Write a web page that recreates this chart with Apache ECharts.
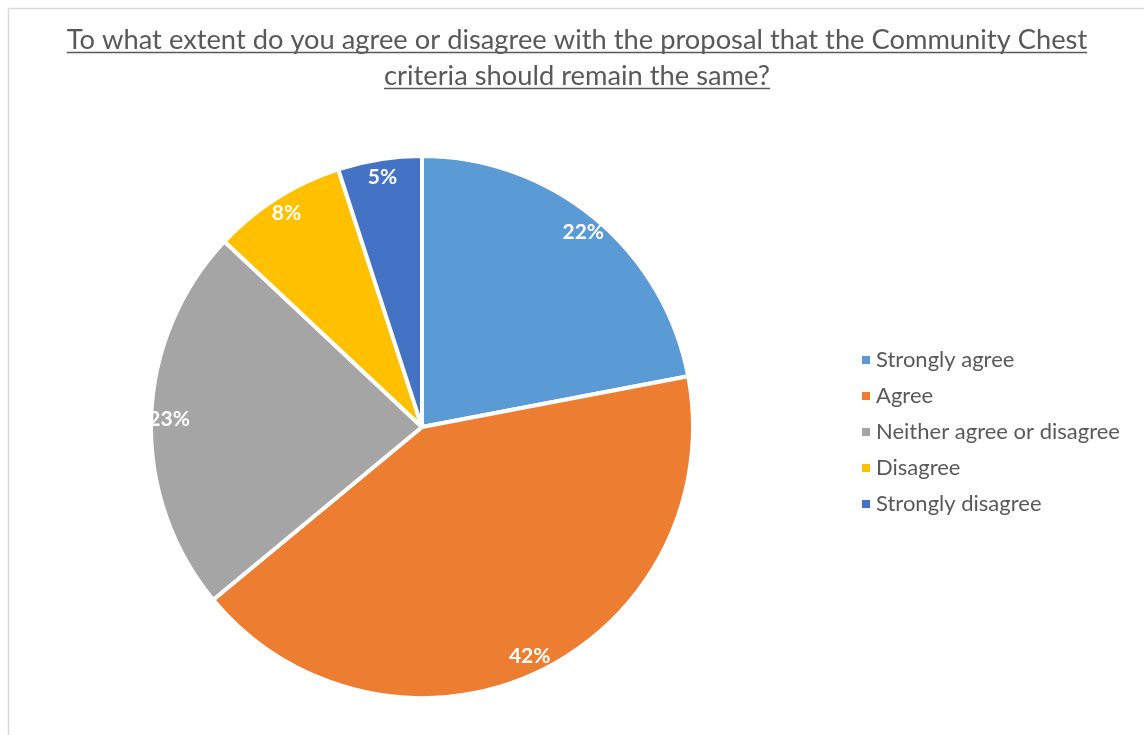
<!DOCTYPE html>
<html>
<head>
<meta charset="utf-8">
<script src="https://cdn.jsdelivr.net/npm/echarts@6/dist/echarts.min.js"></script>
<style>
  html, body { margin: 0; padding: 0; background: #ffffff; }
  #chart { width: 1144px; height: 735px; }
</style>
</head>
<body>
<div id="chart"></div>
<script>
// Survey responses (percent of respondents)
const categories = ['Strongly agree', 'Agree', 'Neither agree or disagree', 'Disagree', 'Strongly disagree'];
const percentages = [22, 42, 23, 8, 5];
const sliceColors = ['#5B9BD5', '#ED7D31', '#A5A5A5', '#FFC000', '#4472C4'];

const titleLines = [
  'To what extent do you agree or disagree with the proposal that the Community Chest',
  'criteria should remain the same?'
];

const FONT = 'Lato, "Open Sans", sans-serif';
const TITLE_SIZE = 27.3;
const TITLE_COLOR = '#595959';
const TITLE_CENTER_X = 577;
const TITLE_LINE_Y = [40, 76];

// width of a title line, used to size its underline
const measureCtx = document.createElement('canvas').getContext('2d');
measureCtx.font = TITLE_SIZE + 'px ' + FONT;
function textWidth(s) { return measureCtx.measureText(s).width; }

const pieData = categories.map((name, i) => ({
  name: name,
  value: percentages[i],
  itemStyle: { color: sliceColors[i] }
}));

const graphics = [
  // light frame around the chart area
  {
    type: 'rect',
    silent: true,
    shape: { x: 8.5, y: 8.5, width: 1300, height: 900 },
    style: { fill: null, stroke: '#D9D9D9', lineWidth: 1.5 }
  }
];
titleLines.forEach((line, i) => {
  const w = textWidth(line);
  graphics.push({
    type: 'text',
    silent: true,
    x: TITLE_CENTER_X,
    y: TITLE_LINE_Y[i],
    style: {
      text: line,
      fill: TITLE_COLOR,
      font: TITLE_SIZE + 'px ' + FONT,
      align: 'center',
      verticalAlign: 'middle'
    }
  });
  graphics.push({
    type: 'line',
    silent: true,
    shape: {
      x1: TITLE_CENTER_X - w / 2, y1: TITLE_LINE_Y[i] + 12.5,
      x2: TITLE_CENTER_X + w / 2, y2: TITLE_LINE_Y[i] + 12.5
    },
    style: { stroke: TITLE_COLOR, lineWidth: 1.3 }
  });
});

const chart = echarts.init(document.getElementById('chart'), null, { renderer: 'canvas' });
chart.setOption({
  animation: false,
  backgroundColor: '#ffffff',
  graphic: graphics,
  legend: {
    data: categories,
    orient: 'vertical',
    left: 855,
    top: 343,
    itemWidth: 10,
    itemHeight: 10,
    itemGap: 12,
    icon: 'rect',
    selectedMode: false,
    textStyle: {
      fontFamily: FONT,
      fontSize: 22,
      color: '#595959',
      lineHeight: 24,
      padding: [0, 0, 0, 0]
    }
  },
  series: [
    {
      name: 'Responses',
      type: 'pie',
      center: [422, 427],
      radius: [0, 271],
      startAngle: 90,
      clockwise: true,
      silent: true,
      itemStyle: { borderColor: '#ffffff', borderWidth: 4 },
      label: { show: false },
      labelLine: { show: false },
      data: pieData
    },
    {
      // ring carrying the percentage labels near the outer edge
      name: 'Labels',
      type: 'pie',
      center: [422, 427],
      radius: [244, 256],
      startAngle: 90,
      clockwise: true,
      silent: true,
      itemStyle: { color: 'rgba(0,0,0,0)', borderWidth: 0 },
      label: {
        show: true,
        position: 'inside',
        formatter: p => p.value + '%',
        color: '#ffffff',
        fontFamily: FONT,
        fontWeight: 'bold',
        fontSize: 21
      },
      labelLine: { show: false },
      data: categories.map((name, i) => ({ name: name, value: percentages[i] }))
    }
  ]
});
</script>
</body>
</html>
